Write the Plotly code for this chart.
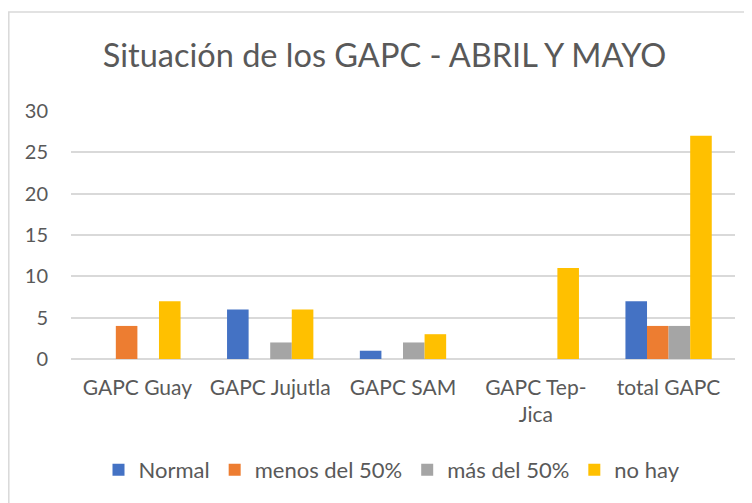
import plotly.graph_objects as go

categories = ["GAPC Guay", "GAPC Jujutla", "GAPC SAM", "GAPC Tep-<br>Jica", "total GAPC"]
normal = [0, 6, 1, 0, 7]
menos_50 = [4, 0, 0, 0, 4]
mas_50 = [0, 2, 2, 0, 4]
no_hay = [7, 6, 3, 11, 27]
series_names = ["Normal", "menos del 50%", "más del 50%", "no hay"]
series_colors = ["#4472C4", "#ED7D31", "#A5A5A5", "#FFC000"]
y_ticks = [0, 5, 10, 15, 20, 25, 30]

W, H = 752, 503
OFF = 8  # page body margin
# target screen coordinates of the plot area
SL, SR, ST, SB = 71, 735, 111, 359
L, T = SL - OFF, ST - OFF
R = W - (SR - OFF)
B = H - (SB - OFF)
FONT = "Lato"
TXT = "#595959"

fig = go.Figure()
for name, vals, col in zip(series_names, [normal, menos_50, mas_50, no_hay], series_colors):
    fig.add_trace(go.Bar(x=categories, y=vals, name=name, marker=dict(color=col, line=dict(width=0))))

pw = W - L - R
ph = H - T - B
def px(x):
    return (x - OFF - L) / pw
def py(y):
    return (H - B - (y - OFF)) / ph

fig.update_layout(
    width=W, height=H,
    margin=dict(l=L, r=R, t=T, b=B),
    paper_bgcolor="white", plot_bgcolor="white",
    barmode="group", bargap=0.35, bargroupgap=0,
    font=dict(family=FONT, color=TXT, size=21),
    title=dict(text="Situación de los GAPC - ABRIL Y MAYO", x=(384.5 - OFF) / W, xanchor="center",
               y=1 - (56 - OFF) / H, yanchor="middle", font=dict(size=32.5, color=TXT, family=FONT)),
    legend=dict(orientation="h", x=px(392), xanchor="center", y=py(470), yanchor="middle",
                font=dict(size=22, color=TXT), itemwidth=30, traceorder="normal"),
    xaxis=dict(showline=False, ticks="", ticklabelstandoff=14, tickfont=dict(size=21, color=TXT)),
    yaxis=dict(range=[0, 30], tickvals=y_ticks, showgrid=True, gridcolor="#D9D9D9", gridwidth=1.5,
               zeroline=True, zerolinecolor="#D9D9D9", zerolinewidth=1.5, showline=False,
               ticks="", ticklabelstandoff=22, tickfont=dict(size=20, color=TXT)),
    shapes=[dict(type="rect", xref="paper", yref="paper", x0=px(OFF + 0.8), x1=px(W + 20), y0=py(H + 20), y1=py(12),
                 line=dict(color="#D9D9D9", width=1.5), fillcolor="rgba(0,0,0,0)", layer="below")],
)
fig.write_html("out.html")
